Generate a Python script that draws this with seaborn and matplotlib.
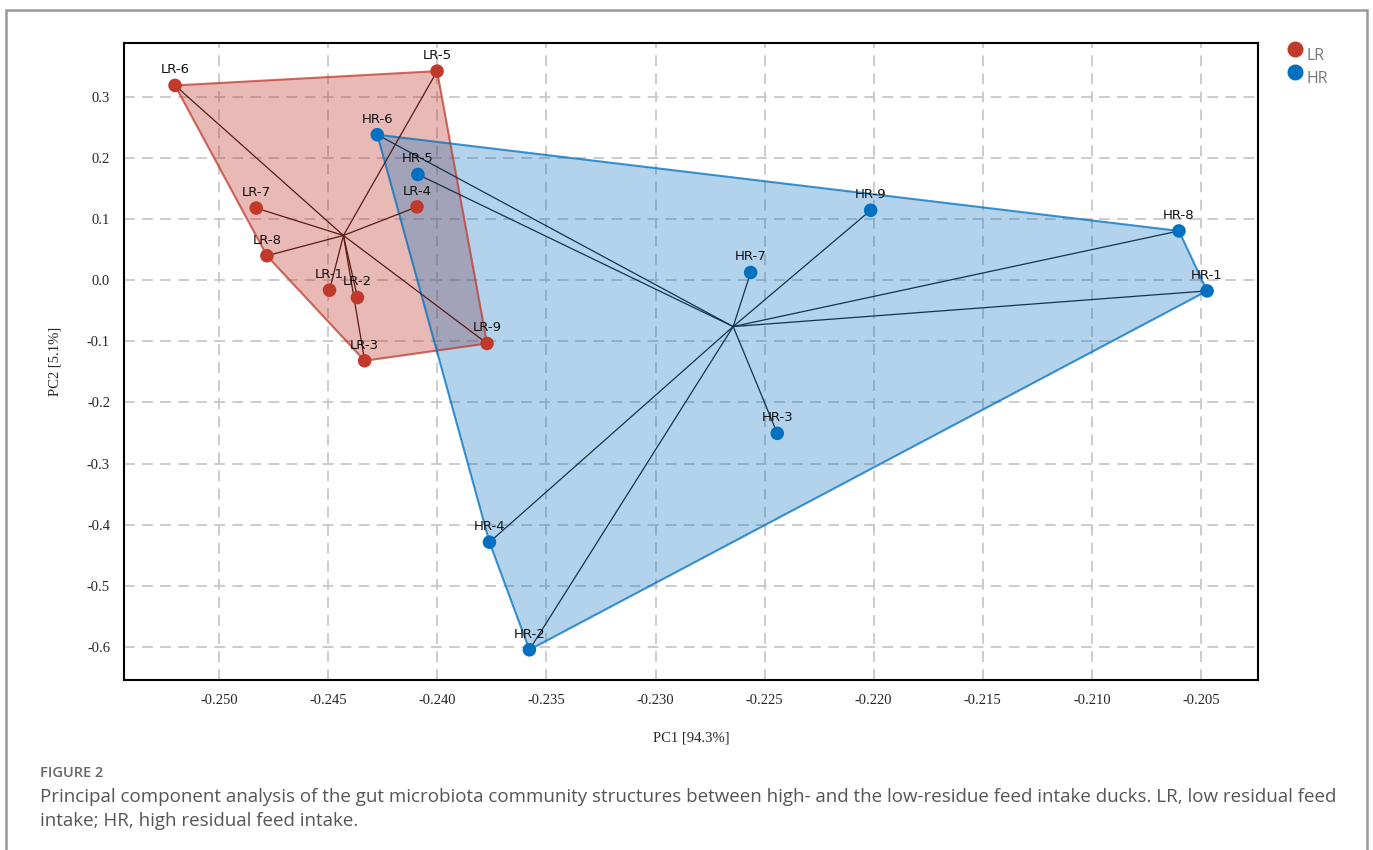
import numpy as np
import pandas as pd
import matplotlib
matplotlib.use('Agg')
import matplotlib.pyplot as plt
from matplotlib.patches import Polygon, Rectangle
from matplotlib.lines import Line2D
import seaborn as sns

# PCA scores
lr_names = ['LR-1', 'LR-2', 'LR-3', 'LR-4', 'LR-5', 'LR-6', 'LR-7', 'LR-8', 'LR-9']
lr_pc1 = [-0.24494, -0.24366, -0.24333, -0.24093, -0.24001, -0.25202, -0.24830, -0.24781, -0.23772]
lr_pc2 = [-0.0163, -0.0283, -0.1318, 0.1200, 0.3420, 0.3186, 0.1180, 0.0400, -0.1035]

hr_names = ['HR-1', 'HR-2', 'HR-3', 'HR-4', 'HR-5', 'HR-6', 'HR-7', 'HR-8', 'HR-9']
hr_pc1 = [-0.20472, -0.23578, -0.22442, -0.23761, -0.24089, -0.24275, -0.22564, -0.20601, -0.22014]
hr_pc2 = [-0.0175, -0.6046, -0.2505, -0.4286, 0.1730, 0.2380, 0.0126, 0.0806, 0.1144]

groups = ['LR', 'HR']
x_ticks = [-0.250, -0.245, -0.240, -0.235, -0.230, -0.225, -0.220, -0.215, -0.210, -0.205]
y_ticks = [0.3, 0.2, 0.1, 0.0, -0.1, -0.2, -0.3, -0.4, -0.5, -0.6]

caption_head = 'FIGURE 2'
caption_text = ('Principal component analysis of the gut microbiota community structures between high- and the '
                'low-residue feed intake ducks. LR, low residual feed\nintake; HR, high residual feed intake.')

colors = {'LR': '#c0392b', 'HR': '#0070c0'}
spoke_colors = {'LR': '#5a1a12', 'HR': '#15324f'}

df = pd.DataFrame({
    'sample': lr_names + hr_names,
    'PC1': lr_pc1 + hr_pc1,
    'PC2': lr_pc2 + hr_pc2,
    'group': ['LR'] * len(lr_names) + ['HR'] * len(hr_names),
})


def convex_hull(pts):
    pts = sorted(set(pts))
    def cross(o, a, b):
        return (a[0] - o[0]) * (b[1] - o[1]) - (a[1] - o[1]) * (b[0] - o[0])
    lower, upper = [], []
    for p in pts:
        while len(lower) >= 2 and cross(lower[-2], lower[-1], p) <= 0:
            lower.pop()
        lower.append(p)
    for p in reversed(pts):
        while len(upper) >= 2 and cross(upper[-2], upper[-1], p) <= 0:
            upper.pop()
        upper.append(p)
    return lower[:-1] + upper[:-1]


sns.set_style('white')
plt.rcParams['font.family'] = ['DejaVu Sans']
plt.rcParams['axes.unicode_minus'] = False

fig = plt.figure(figsize=(13.73, 8.5), dpi=100)
ax = fig.add_axes([0.0903, 0.2, 0.8259, 0.7494])

# hulls, spokes to the centroid
for g, alpha in [('LR', 0.35), ('HR', 0.30)]:
    sub = df[df['group'] == g]
    hull = convex_hull(list(zip(sub['PC1'], sub['PC2'])))
    ax.add_patch(Polygon(hull, closed=True, facecolor=colors[g], alpha=alpha,
                         edgecolor='none', zorder=1))
    ax.add_patch(Polygon(hull, closed=True, facecolor='none', edgecolor=colors[g],
                         alpha=0.75, lw=1.5, zorder=2))
    cx, cy = sub['PC1'].mean(), sub['PC2'].mean()
    for x, y in zip(sub['PC1'], sub['PC2']):
        ax.plot([cx, x], [cy, y], color=spoke_colors[g], lw=0.9, zorder=3)

sns.scatterplot(data=df, x='PC1', y='PC2', hue='group', hue_order=groups,
                palette=colors, s=95, edgecolor='none', linewidth=0, ax=ax,
                zorder=4, legend=False)

for _, r in df.iterrows():
    ax.annotate(r['sample'], (r['PC1'], r['PC2']), xytext=(0, 6.5),
                textcoords='offset points', ha='center', va='bottom',
                fontsize=9.5, color='#111111', zorder=5)

ax.set_xlim(-0.25436, -0.20239)
ax.set_ylim(-0.654, 0.388)
ax.set_xticks(x_ticks)
ax.set_yticks(y_ticks)
ax.set_xticklabels([f'{v:.3f}' for v in x_ticks], family='Liberation Serif', fontsize=10.5)
ax.set_yticklabels([f'{v:.1f}' for v in y_ticks], family='Liberation Serif', fontsize=10.5)
ax.tick_params(direction='out', length=5, width=1.2, color='black', pad=5)
ax.grid(True, color='#c8c8c8', linestyle=(0, (6, 4)), lw=1.3, zorder=0)
ax.set_axisbelow(True)
for s in ax.spines.values():
    s.set_color('black')
    s.set_linewidth(1.5)

ax.set_xlabel('PC1 [94.3%]', family='Liberation Serif', fontsize=10.5, labelpad=18)
ax.set_ylabel('PC2 [5.1%]', family='Liberation Serif', fontsize=10.5, labelpad=18)

handles = [Line2D([], [], marker='o', ls='none', color=colors[g], markersize=10.5) for g in groups]
leg = fig.legend(handles, groups, loc='upper left', bbox_to_anchor=(0.928, 0.967),
                 frameon=False, handlelength=0.8, handletextpad=0.3, labelspacing=0.42,
                 prop={'family': 'Open Sans', 'size': 11.5})
for t in leg.get_texts():
    t.set_color('#777777')
    t.set_y(-6)

# page frame and caption
fig.add_artist(Rectangle((6 / 1373, -0.05), 1361 / 1373, 1 - 10 / 850 + 0.05,
                         transform=fig.transFigure, fill=False, edgecolor='#999999', lw=1.8))
fig.text(40 / 1373, 1 - 773 / 850, caption_head, family='Open Sans', fontsize=10.5,
         fontweight='semibold', color='#666666', va='center')
fig.text(40 / 1373, 1 - 809 / 850, caption_text, family='Open Sans', fontsize=13.5,
         color='#555555', va='center', linespacing=1.38)

fig.savefig('out.png', dpi=100)
